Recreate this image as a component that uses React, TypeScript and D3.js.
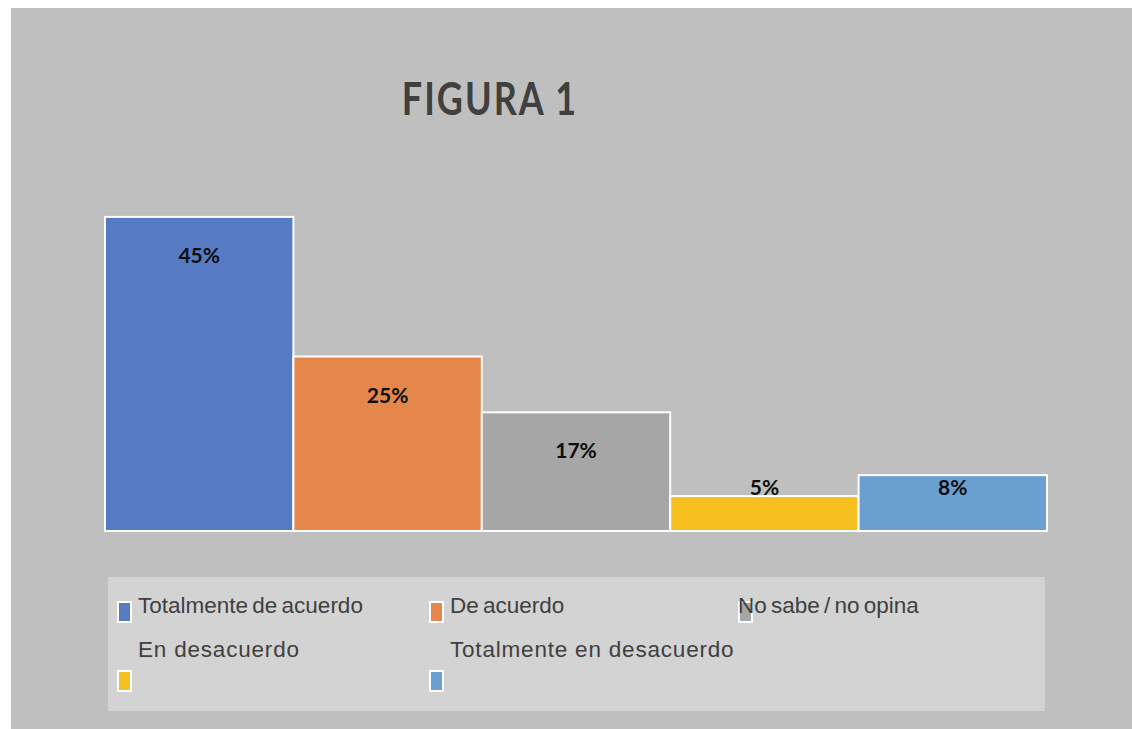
import { useEffect, useRef } from 'react';
import * as d3 from 'd3';

const categories = [
  'Totalmente de acuerdo',
  'De acuerdo',
  'No sabe / no opina',
  'En desacuerdo',
  'Totalmente en desacuerdo',
];
const values = [0.45, 0.25, 0.17, 0.05, 0.08];
const colors = ['#577BC3', '#E5874A', '#A6A6A6', '#F5C01F', '#69A0D0'];
const title = 'FIGURA 1';

// legend layout as Excel left it (third entry overlaps its marker)
const legendSpots = [
  { sx: 117, sy: 601, tx: 138, ty: 613 },
  { sx: 429, sy: 601, tx: 450, ty: 613 },
  { sx: 738, sy: 601, tx: 738, ty: 613 },
  { sx: 117, sy: 670, tx: 138, ty: 657 },
  { sx: 429, sy: 670, tx: 450, ty: 657 },
];

export default function App() {
  const svgRef = useRef<SVGSVGElement>(null);

  useEffect(() => {
    if (!svgRef.current) return;
    const width = 1132;
    const height = 729;
    const svg = d3.select(svgRef.current)
      .attr('width', width)
      .attr('height', height);
    svg.selectAll('*').remove();

    // chart area background
    svg.append('rect')
      .attr('x', 11).attr('y', 8)
      .attr('width', width - 11).attr('height', height - 8)
      .attr('fill', '#BFBFBF');

    // title: narrow, tall, spaced-out glyphs
    svg.append('text')
      .text(title)
      .attr('x', 0)
      .attr('y', 0)
      .attr('transform', 'translate(490,115) scale(1,1.26)')
      .attr('text-anchor', 'middle')
      .attr('fill', '#404040')
      .attr('font-family', 'Lato, sans-serif')
      .attr('font-weight', 700)
      .attr('font-size', 36)
      .attr('letter-spacing', 2);

    const x = d3.scaleBand<string>()
      .domain(categories)
      .range([105, 1047])
      .padding(0);

    const y = d3.scaleLinear()
      .domain([0, 0.5])
      .range([531, 182]);

    const rows = categories.map((c, i) => ({ c, v: values[i], color: colors[i] }));

    svg.append('g').selectAll('rect')
      .data(rows)
      .enter().append('rect')
      .attr('x', d => x(d.c)!)
      .attr('y', d => y(d.v))
      .attr('width', x.bandwidth())
      .attr('height', d => y(0) - y(d.v))
      .attr('fill', d => d.color)
      .attr('stroke', '#fff')
      .attr('stroke-width', 2);

    svg.append('g').selectAll('text')
      .data(rows)
      .enter().append('text')
      .text(d => `${Math.round(d.v * 100)}%`)
      .attr('x', d => x(d.c)! + x.bandwidth() / 2)
      .attr('y', d => Math.min(y(d.v) + 46, y(0) - 36))
      .attr('text-anchor', 'middle')
      .attr('fill', '#0D0D0D')
      .attr('font-family', 'Lato, sans-serif')
      .attr('font-weight', 700)
      .attr('font-size', 21);

    // legend
    svg.append('rect')
      .attr('x', 108).attr('y', 577)
      .attr('width', 937).attr('height', 134)
      .attr('fill', '#D3D3D3');

    const leg = svg.append('g').selectAll('g')
      .data(rows)
      .enter().append('g');

    leg.append('rect')
      .attr('x', (_d, i) => legendSpots[i].sx + 1)
      .attr('y', (_d, i) => legendSpots[i].sy + 1)
      .attr('width', 13)
      .attr('height', 20)
      .attr('fill', d => d.color)
      .attr('stroke', '#fff')
      .attr('stroke-width', 2);

    leg.append('text')
      .text(d => d.c)
      .attr('x', (_d, i) => legendSpots[i].tx)
      .attr('y', (_d, i) => legendSpots[i].ty)
      .attr('fill', '#404040')
      .attr('font-family', '"Liberation Sans", Arial, sans-serif')
      .attr('font-size', 22.5)
      .attr('word-spacing', (_d, i) => (i < 3 ? -2 : 0))
      .attr('letter-spacing', (_d, i) => (i < 3 ? 0 : 0.8));
  }, []);

  return (
    <svg ref={svgRef} style={{ position: 'absolute', left: 0, top: 0, background: '#fff' }} />
  );
}
